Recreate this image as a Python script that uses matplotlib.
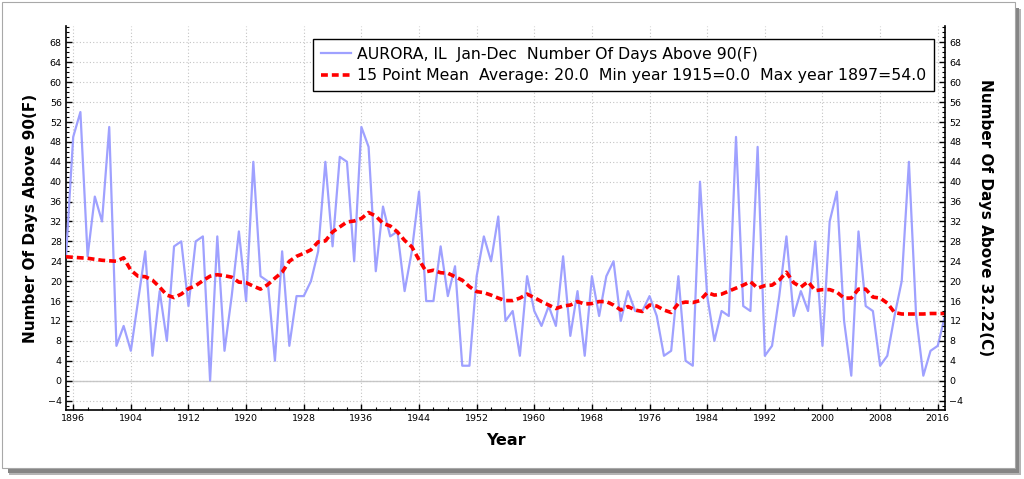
import numpy as np
import matplotlib
matplotlib.use("Agg")
import matplotlib.pyplot as plt
from matplotlib.ticker import MultipleLocator
from matplotlib.patches import Rectangle
from matplotlib.lines import Line2D

# data
years = np.arange(1895, 2018)
days_above_90 = [
    25, 49, 54, 25, 37, 32, 51, 7, 11, 6,
    16, 26, 5, 18, 8, 27, 28, 15, 28, 29,
    0, 29, 6, 17, 30, 16, 44, 21, 20, 4,
    26, 7, 17, 17, 20, 26, 44, 27, 45, 44,
    24, 51, 47, 22, 35, 29, 30, 18, 26, 38,
    16, 16, 27, 17, 23, 3, 3, 21, 29, 24,
    33, 12, 14, 5, 21, 14, 11, 15, 11, 25,
    9, 18, 5, 21, 13, 21, 24, 12, 18, 14,
    14, 17, 13, 5, 6, 21, 4, 3, 40, 17,
    8, 14, 13, 49, 15, 14, 47, 5, 7, 17,
    29, 13, 18, 14, 28, 7, 32, 38, 12, 1,
    30, 15, 14, 3, 5, 13, 20, 44, 13, 1,
    6, 7, 13,
]
mean_15pt = [
    24.9, 24.8, 24.7, 24.6, 24.4, 24.2, 24.1, 24.0, 24.7, 22.2,
    21.0, 20.9, 20.2, 18.8, 17.2, 16.7, 17.4, 18.5, 19.1, 20.1,
    21.0, 21.3, 21.1, 20.8, 19.8, 19.7, 19.0, 18.4, 19.3, 20.6,
    21.8, 24.0, 25.0, 25.6, 26.3, 27.9, 28.1, 29.9, 30.9, 31.9,
    32.1, 32.6, 33.8, 33.1, 31.6, 31.1, 29.9, 28.2, 26.9, 24.3,
    21.9, 22.2, 21.7, 21.6, 20.9, 20.2, 18.9, 17.9, 17.7, 17.2,
    16.6, 16.1, 16.1, 16.6, 17.4, 16.7, 15.9, 15.2, 14.5, 15.0,
    15.2, 15.9, 15.4, 15.5, 15.9, 15.9, 15.2, 14.2, 14.9, 14.2,
    13.9, 15.2, 15.0, 14.2, 13.7, 15.5, 15.8, 15.7, 16.1, 17.7,
    17.2, 17.4, 18.0, 18.6, 19.2, 19.9, 18.6, 19.1, 19.2, 20.2,
    21.8, 19.7, 18.8, 19.9, 18.1, 18.3, 18.3, 17.8, 16.6, 16.6,
    18.4, 18.4, 16.8, 16.6, 15.6, 13.7, 13.4, 13.4, 13.4, 13.4,
    13.5, 13.5, 13.5,
]
label_data = "AURORA, IL  Jan-Dec  Number Of Days Above 90(F)"
label_mean = "15 Point Mean  Average: 20.0  Min year 1915=0.0  Max year 1897=54.0"

W, H = 1024, 479
fig = plt.figure(figsize=(W / 100, H / 100), dpi=100)
fig.patch.set_facecolor("white")

# screenshot frame with drop shadow
fig.patches.append(Rectangle((9 / W, 1 - 475 / H), 1012 / W, 466 / H,
                             transform=fig.transFigure, facecolor="#b4b4b4",
                             edgecolor="none", zorder=-11))
fig.patches.append(Rectangle((8 / W, 1 - 473 / H), 1011 / W, 465 / H,
                             transform=fig.transFigure, facecolor="#858585",
                             edgecolor="none", zorder=-10))
fig.patches.append(Rectangle((2 / W, 1 - 468 / H), 1013 / W, 466 / H,
                             transform=fig.transFigure, facecolor="white",
                             edgecolor="#a8a8a8", linewidth=0.8, zorder=-9))

ax = fig.add_axes([66 / W, 1 - 410 / H, (945.3 - 66) / W, (410 - 26) / H])
ax.set_facecolor("white")

ax.plot(years, days_above_90, color="#9fa1ff", linewidth=1.6, zorder=3)
ax.plot(years, mean_15pt, color="#ff0000", linewidth=2.6, linestyle=(0, (1.9, 1.1)), zorder=4)

ax.set_xlim(1895, 2017.05)
ax.set_ylim(-5.9, 71.3)

ax.xaxis.set_major_locator(MultipleLocator(8))
ax.xaxis.set_minor_locator(MultipleLocator(2))
ax.yaxis.set_major_locator(MultipleLocator(4))
ax.yaxis.set_minor_locator(MultipleLocator(1))
ax.set_xticks(np.arange(1896, 2017, 8))
ax.set_yticks(np.arange(-4, 69, 4))

ax.grid(True, which="major", linestyle=(0, (1, 2)), color="#c4c4c4", linewidth=0.8, zorder=0)
ax.axhline(0, color="#c8c8c8", linewidth=1.0, zorder=1)

for s in ["top", "right"]:
    ax.spines[s].set_visible(False)
ax.spines["left"].set_linewidth(1.2)
ax.spines["bottom"].set_linewidth(1.2)

ax.tick_params(which="major", direction="in", length=4, width=1, labelsize=6.8, pad=3)
ax.tick_params(which="minor", direction="in", length=2.2, width=0.8)

ax2 = ax.twinx()
ax2.set_ylim(ax.get_ylim())
ax2.yaxis.set_major_locator(MultipleLocator(4))
ax2.yaxis.set_minor_locator(MultipleLocator(1))
ax2.set_yticks(np.arange(-4, 69, 4))
for s in ["top", "left", "bottom"]:
    ax2.spines[s].set_visible(False)
ax2.spines["right"].set_linewidth(1.2)
ax2.tick_params(which="major", direction="in", length=4, width=1, labelsize=6.8, pad=3)
ax2.tick_params(which="minor", direction="in", length=2.2, width=0.8)

ax.set_xlabel("Year", fontsize=11.5, fontweight="bold", labelpad=7)
ax.set_ylabel("Number Of Days Above 90(F)", fontsize=11, fontweight="bold", labelpad=7)
ax2.set_ylabel("Number Of Days Above 32.22(C)", fontsize=11, fontweight="bold",
               rotation=270, labelpad=21)

handles = [
    Line2D([], [], color="#9fa1ff", linewidth=1.6),
    Line2D([], [], color="#ff0000", linewidth=2.6, linestyle=(0, (1.9, 1.1))),
]
leg = ax2.legend(handles, [label_data, label_mean], loc="upper left",
                 bbox_to_anchor=(313 / W, 1 - 39 / H), bbox_transform=fig.transFigure,
                 borderaxespad=0, fontsize=11.3, frameon=True, fancybox=False,
                 framealpha=1, edgecolor="black", handlelength=1.9,
                 labelspacing=0.4, borderpad=0.5, handletextpad=0.4)
leg.get_frame().set_linewidth(1.0)
leg.set_zorder(10)

fig.savefig("out.png", dpi=100)
